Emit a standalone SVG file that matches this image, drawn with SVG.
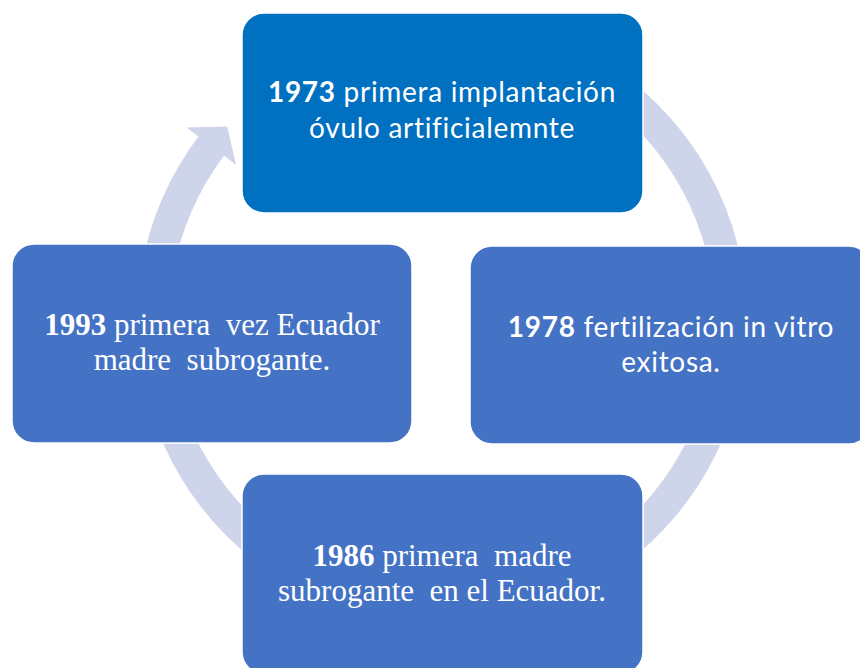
<svg xmlns="http://www.w3.org/2000/svg" width="860" height="668" viewBox="0 0 860 668">
  <style>
    .box { stroke: #ffffff; stroke-width: 1.5; }
    .b1 { fill: #0070C0; }
    .b2 { fill: #4472C4; }
    .sans { font-family: Lato, "Liberation Sans", sans-serif; font-size: 28px; letter-spacing: 0.7px; fill: #ffffff; text-anchor: middle; white-space: pre; font-variant-ligatures: none; }
    .serif { font-family: "Liberation Serif", serif; font-size: 31px; fill: #ffffff; text-anchor: middle; white-space: pre; }
    .bold { font-weight: bold; }
    .ring { fill: #CED4EA; }
  </style>
  <rect width="860" height="668" fill="#ffffff"/>
  <g id="connectors">
    <path class="ring" d="M 337.7 33.4 A 305 305 0 1 1 198.4 136.5 L 186.4 127.4 L 227.2 126.6 L 236.0 164.7 L 224.0 155.7 A 273 273 0 1 0 348.6 63.5 Z"/>
  </g>
  <g id="node-1973">
    <rect class="box b1" x="242" y="13" width="401" height="200" rx="22"/>
    <text class="sans" x="442" y="102" xml:space="preserve"><tspan class="bold">1973</tspan> primera implantación</text>
    <text class="sans" x="442" y="138">óvulo artificialemnte</text>
  </g>
  <g id="node-1978">
    <rect class="box b2" x="470" y="246" width="401" height="198" rx="22"/>
    <text class="sans" x="671" y="337" xml:space="preserve"><tspan class="bold">1978</tspan> fertilización in vitro</text>
    <text class="sans" x="671" y="372">exitosa.</text>
  </g>
  <g id="node-1986">
    <rect class="box b2" x="242" y="474" width="401" height="200" rx="22"/>
    <text class="serif" x="442" y="566" xml:space="preserve"><tspan class="bold">1986</tspan> primera  madre</text>
    <text class="serif" x="442" y="601" xml:space="preserve">subrogante  en el Ecuador.</text>
  </g>
  <g id="node-1993">
    <rect class="box b2" x="12" y="244" width="400" height="199" rx="22"/>
    <text class="serif" x="212" y="335" xml:space="preserve"><tspan class="bold">1993</tspan> primera  vez Ecuador</text>
    <text class="serif" x="212" y="370" xml:space="preserve">madre  subrogante.</text>
  </g>
</svg>
